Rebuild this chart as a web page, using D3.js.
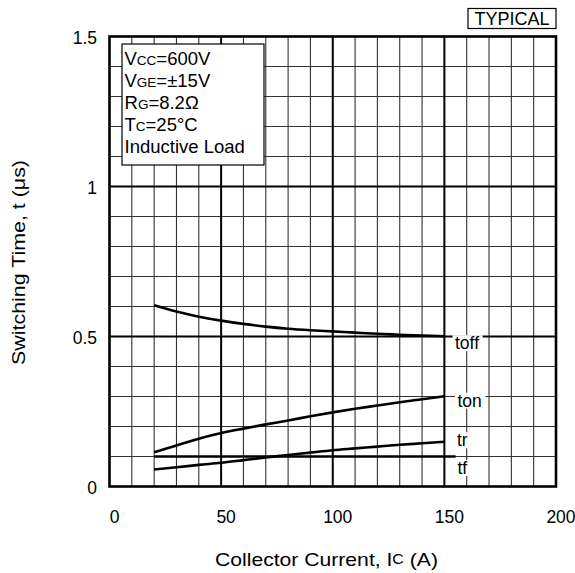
<!DOCTYPE html>
<html>
<head>
<meta charset="utf-8">
<script src="https://cdn.jsdelivr.net/npm/d3@7"></script>
<style>
  html, body { margin: 0; padding: 0; background: #fff; }
  svg text { font-family: "Liberation Sans", Arial, sans-serif; fill: #000; }
</style>
</head>
<body>
<svg id="chart" width="575" height="573"></svg>
<script>
// ---- data ----
const xTicks = [0, 50, 100, 150, 200];
const yTicks = [0, 0.5, 1, 1.5];
const current = [20, 30, 40, 50, 60, 70, 80, 90, 100, 110, 120, 130, 140, 150];
const toff = [0.604, 0.583, 0.566, 0.553, 0.542, 0.533, 0.526, 0.521, 0.517, 0.513, 0.509, 0.506, 0.503, 0.501];
const ton  = [0.114, 0.137, 0.159, 0.178, 0.193, 0.207, 0.220, 0.234, 0.247, 0.259, 0.270, 0.281, 0.291, 0.301];
const tr   = [0.057, 0.064, 0.072, 0.079, 0.088, 0.097, 0.105, 0.113, 0.121, 0.127, 0.133, 0.139, 0.144, 0.149];
const tfCurrent = [20, 155];
const tf   = [0.1, 0.1];
const seriesNames = ["toff", "ton", "tr", "tf"];
const conditions = [
  [["V", 0], ["CC", 1], ["=600V", 0]],
  [["V", 0], ["GE", 1], ["=±15V", 0]],
  [["R", 0], ["G", 1], ["=8.2Ω", 0]],
  [["T", 0], ["C", 1], ["=25°C", 0]],
  [["Inductive Load", 0]]
];

// ---- layout ----
const svg = d3.select("#chart");
const x = d3.scaleLinear().domain([0, 200]).range([109.5, 556]);
const y = d3.scaleLinear().domain([0, 1.5]).range([486.5, 36.5]);

// grid
const g = svg.append("g");
const minorX = d3.range(10, 200, 10).filter(v => v % 50 !== 0);
const minorY = d3.range(1, 15).map(v => v / 10).filter(v => Math.round(v * 10) % 5 !== 0);
g.selectAll(".mx").data(minorX).enter().append("line")
  .attr("x1", d => x(d)).attr("x2", d => x(d)).attr("y1", y(0)).attr("y2", y(1.5))
  .attr("stroke", "#333").attr("stroke-width", 1.1);
g.selectAll(".my").data(minorY).enter().append("line")
  .attr("y1", d => y(d)).attr("y2", d => y(d)).attr("x1", x(0)).attr("x2", x(200))
  .attr("stroke", "#333").attr("stroke-width", 1.1);
g.selectAll(".Mx").data(xTicks.slice(1, -1)).enter().append("line")
  .attr("x1", d => x(d)).attr("x2", d => x(d)).attr("y1", y(0)).attr("y2", y(1.5))
  .attr("stroke", "#000").attr("stroke-width", 2);
g.selectAll(".My").data(yTicks.slice(1, -1)).enter().append("line")
  .attr("y1", d => y(d)).attr("y2", d => y(d)).attr("x1", x(0)).attr("x2", x(200))
  .attr("stroke", "#000").attr("stroke-width", 2);

// curves
const line = d3.line().x(d => x(d[0])).y(d => y(d[1])).curve(d3.curveMonotoneX);
const curves = [
  current.map((c, i) => [c, toff[i]]),
  current.map((c, i) => [c, ton[i]]),
  current.map((c, i) => [c, tr[i]]),
  tfCurrent.map((c, i) => [c, tf[i]])
];
svg.selectAll(".curve").data(curves).enter().append("path")
  .attr("d", line).attr("fill", "none").attr("stroke", "#000").attr("stroke-width", 2.6);

// frame
svg.append("rect").attr("x", x(0)).attr("y", y(1.5))
  .attr("width", x(200) - x(0)).attr("height", y(0) - y(1.5))
  .attr("fill", "none").attr("stroke", "#000").attr("stroke-width", 2.6);

// curve labels
const labelDy = [7, 4.5, -1.5, 11.5];
const labelX = [455, 457.5, 457, 457.5];
curves.forEach((c, i) => {
  const last = c[c.length - 1];
  const yy = y(i === 3 ? 0.1 : last[1]) + labelDy[i];
  const lg = svg.append("g");
  const t = lg.append("text").attr("x", labelX[i]).attr("y", yy)
    .attr("dominant-baseline", "central").attr("font-size", 17.5).text(seriesNames[i]);
  const bb = t.node().getBBox();
  lg.insert("rect", "text").attr("x", bb.x - 2.5).attr("y", bb.y + 2)
    .attr("width", bb.width + 6).attr("height", bb.height - 4).attr("fill", "#fff");
});

// condition box
svg.append("rect").attr("x", 122).attr("y", 44).attr("width", 142).attr("height", 121)
  .attr("fill", "#fff").attr("stroke", "#000").attr("stroke-width", 1.2);
conditions.forEach((parts, i) => {
  const t = svg.append("text").attr("x", 124.5).attr("y", 64.5 + i * 22).attr("font-size", 18.5);
  parts.forEach(p => {
    t.append("tspan").attr("font-size", p[1] ? 13.5 : 18.5).text(p[0]);
  });
});

// TYPICAL box
svg.append("rect").attr("x", 468).attr("y", 8.5).attr("width", 88).attr("height", 20)
  .attr("fill", "#fff").attr("stroke", "#000").attr("stroke-width", 1.2);
svg.append("text").attr("x", 512).attr("y", 19).attr("text-anchor", "middle")
  .attr("dominant-baseline", "central").attr("font-size", 18).text("TYPICAL");

// tick labels
svg.selectAll(".yt").data(yTicks).enter().append("text")
  .attr("x", 97).attr("y", d => y(d) + 1).attr("text-anchor", "end")
  .attr("dominant-baseline", "central").attr("font-size", 17.5)
  .text(d => d3.format("~g")(d));
svg.selectAll(".xt").data(xTicks).enter().append("text")
  .attr("x", d => x(d) + 5).attr("y", 517).attr("text-anchor", "middle")
  .attr("dominant-baseline", "central").attr("font-size", 17.5)
  .text(d => d);

// axis titles
const xt = svg.append("text").attr("x", 215).attr("y", 559)
  .attr("dominant-baseline", "central").attr("font-size", 18.5)
  .attr("textLength", 223).attr("lengthAdjust", "spacingAndGlyphs");
xt.append("tspan").text("Collector Current, I");
xt.append("tspan").attr("font-size", 14).text("C");
xt.append("tspan").text(" (A)");

svg.append("text").attr("transform", "translate(18,262.5) rotate(-90)")
  .attr("text-anchor", "middle").attr("dominant-baseline", "central").attr("font-size", 18.5)
  .attr("textLength", 205).attr("lengthAdjust", "spacingAndGlyphs")
  .text("Switching Time, t (μs)");
</script>
</body>
</html>
